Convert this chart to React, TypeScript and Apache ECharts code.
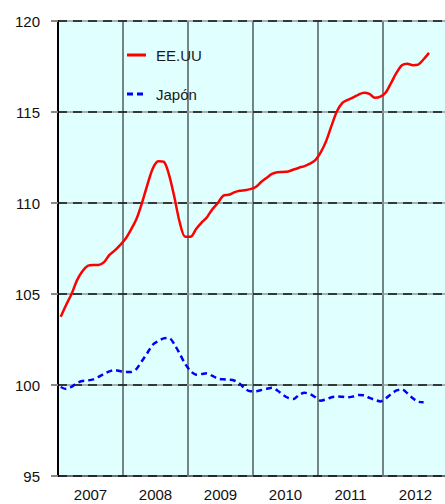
import React, { useEffect, useRef } from "react";
import * as echarts from "echarts";

const yearLabels = ["2007", "2008", "2009", "2010", "2011", "2012"];
const yTicks = { min: 95, max: 120, interval: 5 };
const seriesNames = ["EE.UU", "Japón"];

// Monthly index values, Jan 2007 onward
const usValues = [
  103.75, 104.4, 105.0, 105.75, 106.25, 106.55, 106.6, 106.6, 106.75, 107.15, 107.4, 107.7,
  108.05, 108.55, 109.13, 110.0, 111.0, 111.9, 112.3, 112.27, 111.55, 110.3, 108.9, 108.14,
  108.15, 108.57, 108.92, 109.22, 109.66, 110.0, 110.4, 110.45, 110.58, 110.67, 110.7, 110.76,
  110.88, 111.15, 111.38, 111.6, 111.69, 111.71, 111.73, 111.84, 111.94, 112.03, 112.16, 112.35,
  112.78, 113.4, 114.25, 115.04, 115.5, 115.67, 115.8, 115.96, 116.06, 115.99, 115.78, 115.84,
  116.07, 116.6, 117.16, 117.57, 117.65, 117.57, 117.6, 117.9, 118.25,
];

const jpValues = [
  99.89, 99.78, 99.9, 100.11, 100.22, 100.25, 100.31, 100.45, 100.61, 100.75, 100.82, 100.76,
  100.71, 100.72, 100.89, 101.32, 101.76, 102.21, 102.41, 102.56, 102.58, 102.23, 101.7, 101.15,
  100.76, 100.57, 100.6, 100.64, 100.5, 100.36, 100.31, 100.29, 100.25, 100.08, 99.8, 99.66,
  99.66, 99.72, 99.79, 99.85, 99.7, 99.47, 99.29, 99.23, 99.46, 99.57, 99.5, 99.33,
  99.14, 99.21, 99.33, 99.37, 99.35, 99.32, 99.37, 99.45, 99.44, 99.29, 99.19, 99.1,
  99.26, 99.5, 99.7, 99.76, 99.55, 99.27, 99.08, 99.05,
];

const FONT = "'Liberation Sans', Arial, sans-serif";
const COLORS = ["#FF0000", "#0000FF"];
const DASHES: (number[] | null)[] = [null, [6, 4]];

export default function App() {
  const ref = useRef<HTMLDivElement>(null);

  useEffect(() => {
    if (!ref.current) return;
    const chart = echarts.init(ref.current, null, { renderer: "svg" });
    const totalMonths = yearLabels.length * 12;

    const legendGraphics: any[] = [];
    seriesNames.forEach((name, k) => {
      const y = 55 + k * 39;
      legendGraphics.push({
        type: "line",
        shape: { x1: 127, y1: y, x2: 146, y2: y },
        style: {
          stroke: COLORS[k],
          lineWidth: 3,
          lineDash: DASHES[k] || undefined,
        },
        z: 10,
      });
      legendGraphics.push({
        type: "text",
        x: 156,
        y: y,
        style: {
          text: name,
          fill: "#1a1a1a",
          font: `15px ${FONT}`,
          verticalAlign: "middle",
          align: "left",
        },
        z: 10,
      });
    });

    chart.setOption({
      animation: false,
      backgroundColor: "#ffffff",
      textStyle: { fontFamily: FONT },
      grid: {
        left: 58,
        right: 0,
        top: 21,
        bottom: 28,
        show: true,
        backgroundColor: "#E0FFFF",
        borderWidth: 0,
      },
      graphic: legendGraphics,
      xAxis: [
        {
          type: "value",
          min: 0,
          max: totalMonths,
          interval: 12,
          axisLabel: { show: false },
          axisTick: { show: false },
          axisLine: { show: false },
          splitLine: { show: true, lineStyle: { color: "#4f5c5c", width: 1.5 } },
        },
        {
          type: "category",
          data: yearLabels,
          position: "bottom",
          boundaryGap: true,
          axisLine: { show: true, lineStyle: { color: "#000", width: 2 } },
          axisTick: { show: false },
          axisLabel: { fontSize: 15, margin: 11, color: "#111", fontFamily: FONT },
          splitLine: { show: false },
        },
      ],
      yAxis: [
        {
          type: "value",
          min: yTicks.min,
          max: yTicks.max,
          interval: yTicks.interval,
          z: 3,
          axisLine: { show: true, onZero: false, lineStyle: { color: "#000", width: 2 } },
          axisTick: { show: true, length: 7, lineStyle: { color: "#888", width: 2 } },
          axisLabel: { fontSize: 15, margin: 18, color: "#111", fontFamily: FONT },
          splitLine: { show: true, lineStyle: { color: "#111", type: [9, 6], width: 1.5 } },
        },
        {
          type: "value",
          min: yTicks.min,
          max: yTicks.max,
          interval: yTicks.interval,
          z: 1,
          axisLine: { show: false },
          axisTick: { show: false },
          axisLabel: { show: false },
          splitLine: { show: true, lineStyle: { color: "#8c9a9a", width: 1.5 } },
        },
      ],
      series: [
        {
          name: seriesNames[0],
          type: "line",
          xAxisIndex: 0,
          yAxisIndex: 0,
          symbol: "none",
          smooth: 0.3,
          z: 5,
          lineStyle: { color: COLORS[0], width: 2.5 },
          itemStyle: { color: COLORS[0] },
          data: usValues.map((v, i) => [i + 0.5, v]),
        },
        {
          name: seriesNames[1],
          type: "line",
          xAxisIndex: 0,
          yAxisIndex: 0,
          symbol: "none",
          smooth: 0.3,
          z: 5,
          lineStyle: { color: COLORS[1], width: 2.5, type: [6, 4] },
          itemStyle: { color: COLORS[1] },
          data: jpValues.map((v, i) => [i + 0.5, v]),
        },
      ],
    });
    return () => chart.dispose();
  }, []);

  return (
    <div
      ref={ref}
      style={{ position: "fixed", left: 0, top: 0, width: 448, height: 504 }}
    />
  );
}
